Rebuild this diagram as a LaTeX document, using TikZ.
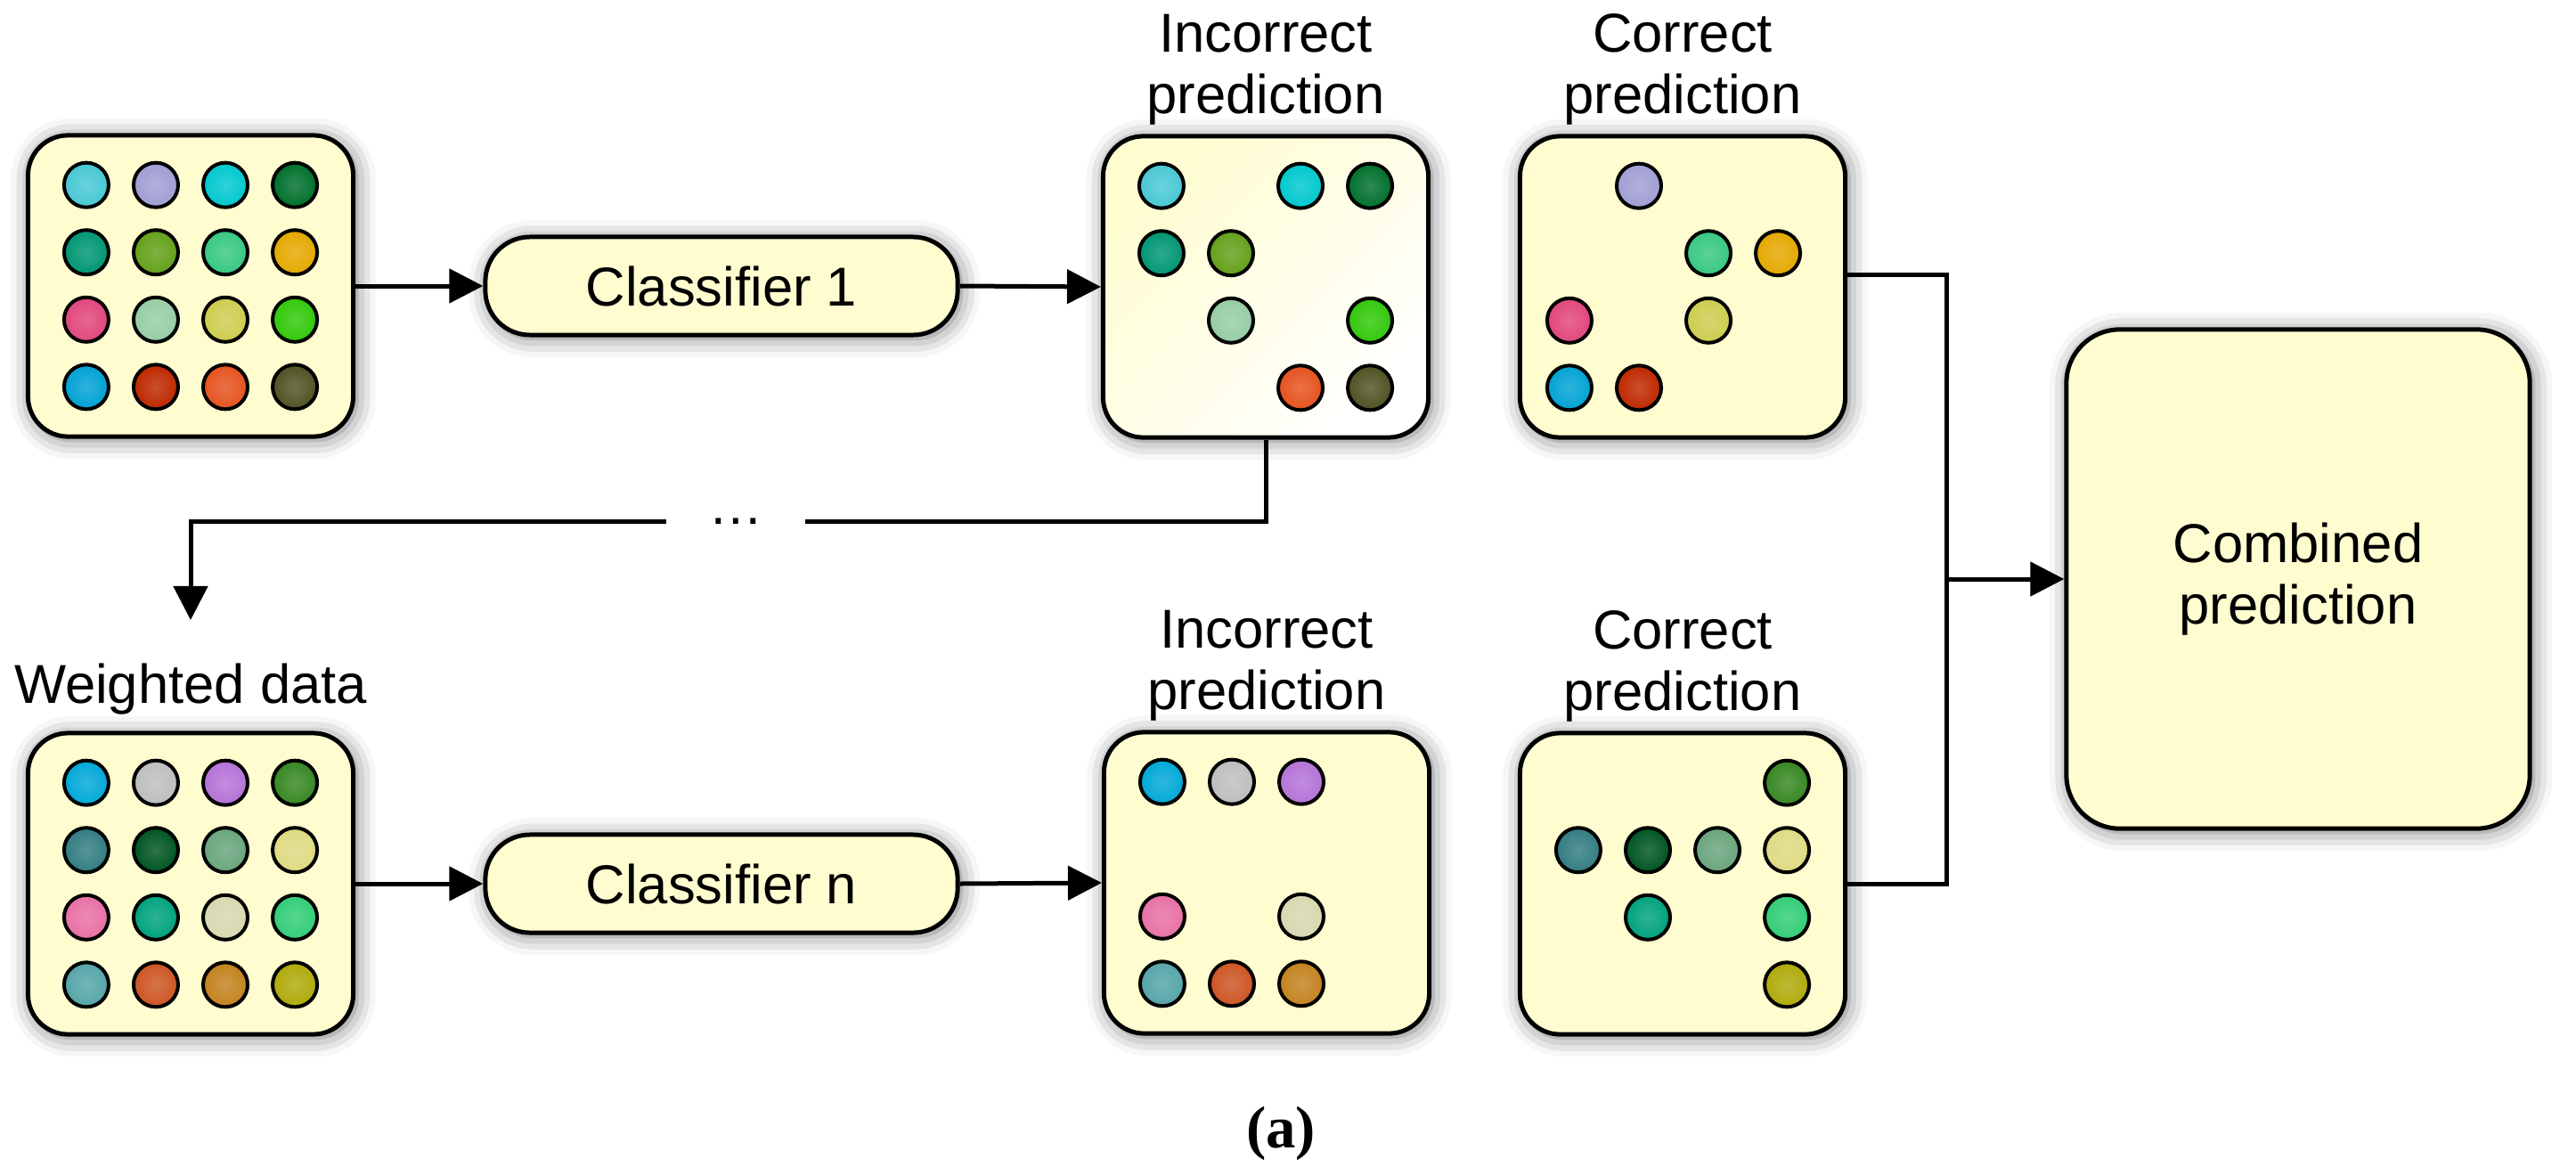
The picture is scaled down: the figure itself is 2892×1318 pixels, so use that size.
\documentclass[tikz,border=0pt]{standalone}
\usepackage{fontspec}
\setmainfont{Liberation Sans}
\newfontfamily\capfont{Liberation Serif}
\usepackage{tikz}
\usetikzlibrary{arrows.meta, shadows.blur}

\definecolor{boxyellow}{RGB}{255,253,208}

% first data set
\definecolor{dota11}{RGB}{72,200,212}
\definecolor{dota12}{RGB}{160,158,212}
\definecolor{dota13}{RGB}{0,200,206}
\definecolor{dota14}{RGB}{0,112,44}
\definecolor{dota21}{RGB}{0,150,115}
\definecolor{dota22}{RGB}{100,160,25}
\definecolor{dota23}{RGB}{55,200,130}
\definecolor{dota24}{RGB}{228,168,0}
\definecolor{dota31}{RGB}{225,70,125}
\definecolor{dota32}{RGB}{150,205,165}
\definecolor{dota33}{RGB}{205,205,80}
\definecolor{dota34}{RGB}{50,200,10}
\definecolor{dota41}{RGB}{0,162,212}
\definecolor{dota42}{RGB}{190,40,0}
\definecolor{dota43}{RGB}{230,82,30}
\definecolor{dota44}{RGB}{80,82,35}

% weighted data set
\definecolor{dotb11}{RGB}{0,168,215}
\definecolor{dotb12}{RGB}{190,190,190}
\definecolor{dotb13}{RGB}{180,115,215}
\definecolor{dotb14}{RGB}{55,135,35}
\definecolor{dotb21}{RGB}{50,125,130}
\definecolor{dotb22}{RGB}{0,85,35}
\definecolor{dotb23}{RGB}{105,165,125}
\definecolor{dotb24}{RGB}{222,218,130}
\definecolor{dotb31}{RGB}{232,112,165}
\definecolor{dotb32}{RGB}{0,162,125}
\definecolor{dotb33}{RGB}{215,215,175}
\definecolor{dotb34}{RGB}{50,205,120}
\definecolor{dotb41}{RGB}{85,165,168}
\definecolor{dotb42}{RGB}{205,85,35}
\definecolor{dotb43}{RGB}{195,130,30}
\definecolor{dotb44}{RGB}{175,170,10}

\begin{document}
\begin{tikzpicture}[
    x=0.01cm, y=-0.01cm,
    font=\fontsize{17.5}{19.5}\selectfont,
    line width=0.05cm,
    soft/.style={blur shadow={shadow xshift=0.03cm, shadow yshift=-0.03cm,
        shadow blur radius=0.22cm, shadow opacity=55}},
    panel/.style={draw=black, fill=boxyellow, rounded corners=0.45cm,
        minimum width=3.65cm, minimum height=3.38cm, soft},
    clfbox/.style={draw=black, fill=boxyellow, rounded corners=0.5cm,
        minimum width=5.3cm, minimum height=1.1cm, soft},
    bigbox/.style={draw=black, fill=boxyellow, rounded corners=0.6cm,
        minimum width=5.2cm, minimum height=5.6cm, align=center, soft},
    dot/.style={circle, draw=black, line width=0.04cm, minimum size=0.5cm,
        inner sep=0pt, inner color=#1!82!white, outer color=#1},
    lbl/.style={align=center, inner sep=0pt},
    arr/.style={-{Triangle[length=0.38cm, width=0.38cm]}}
]
    \useasboundingbox (0,0) rectangle (2892,1318);

    % ==========================================
    % COORDINATES
    % ==========================================
    % Round 1
    \coordinate (data1_pos)  at (214, 321);
    \coordinate (clf1_pos)   at (810, 321);
    \coordinate (wrong1_pos) at (1421, 322);
    \coordinate (right1_pos) at (1889, 322);

    % Round n
    \coordinate (data2_pos)  at (214, 992);
    \coordinate (clfn_pos)   at (810, 992);
    \coordinate (wrong2_pos) at (1422, 991);
    \coordinate (right2_pos) at (1889, 992);

    % Output
    \coordinate (comb_pos) at (2580, 650);
    \coordinate (merge)    at (2185, 650);


    % ==========================================
    % BOXES
    % ==========================================
    \node[panel] (data1) at (data1_pos) {};
    \node[clfbox] (clf1) at (clf1_pos) {Classifier 1};
    \node[panel, shading=axis, top color=boxyellow, middle color=boxyellow,
        bottom color=white, shading angle=45] (wrong1) at (wrong1_pos) {};
    \node[panel] (right1) at (right1_pos) {};

    \node[panel] (data2) at (data2_pos) {};
    \node[clfbox] (clfn) at (clfn_pos) {Classifier n};
    \node[panel] (wrong2) at (wrong2_pos) {};
    \node[panel] (right2) at (right2_pos) {};

    \node[bigbox] (comb) at (comb_pos) {Combined\\prediction};


    % ==========================================
    % DOTS (row/column inside each box)
    % ==========================================
    % Data set 1: full grid
    \foreach \r in {1,...,4}
        \foreach \c in {1,...,4}
            \node[dot=dota\r\c] (data1-\r\c)
                at ([xshift={(\c-2.5)*0.78cm}, yshift={(2.5-\r)*0.755cm}]data1.center) {};

    % Round 1: incorrect
    \foreach \r/\c in {1/1, 1/3, 1/4, 2/1, 2/2, 3/2, 3/4, 4/3, 4/4}
        \node[dot=dota\r\c] (wrong1-\r\c)
            at ([xshift={(\c-2.5)*0.78cm}, yshift={(2.5-\r)*0.755cm}]wrong1.center) {};

    % Round 1: correct
    \foreach \r/\c in {1/2, 2/3, 2/4, 3/1, 3/3, 4/1, 4/2}
        \node[dot=dota\r\c] (right1-\r\c)
            at ([xshift={(\c-2.5)*0.78cm-0.1cm}, yshift={(2.5-\r)*0.755cm}]right1.center) {};

    % Weighted data: full grid
    \foreach \r in {1,...,4}
        \foreach \c in {1,...,4}
            \node[dot=dotb\r\c] (data2-\r\c)
                at ([xshift={(\c-2.5)*0.78cm}, yshift={(2.5-\r)*0.755cm}]data2.center) {};

    % Round n: incorrect
    \foreach \r/\c in {1/1, 1/2, 1/3, 3/1, 3/3, 4/1, 4/2, 4/3}
        \node[dot=dotb\r\c] (wrong2-\r\c)
            at ([xshift={(\c-2.5)*0.78cm}, yshift={(2.5-\r)*0.755cm}]wrong2.center) {};

    % Round n: correct
    \foreach \r/\c in {1/4, 2/1, 2/2, 2/3, 2/4, 3/2, 3/4, 4/4}
        \node[dot=dotb\r\c] (right2-\r\c)
            at ([xshift={(\c-2.5)*0.78cm}, yshift={(2.5-\r)*0.755cm}]right2.center) {};


    % ==========================================
    % LABELS
    % ==========================================
    \node[lbl, above=0.08cm] (wrong1_txt) at (wrong1.north) {Incorrect\\prediction};
    \node[lbl, above=0.08cm] (right1_txt) at (right1.north) {Correct\\prediction};
    \node[lbl, above=0.08cm] (wrong2_txt) at (wrong2.north) {Incorrect\\prediction};
    \node[lbl, above=0.08cm] (right2_txt) at (right2.north) {Correct\\prediction};
    \node[lbl, above=0.16cm] (wdata) at (data2.north) {Weighted data};

    \node[inner xsep=0.45cm, inner ysep=0pt] (dots) at (826, 585) {…};

    \node[font=\capfont\bfseries\fontsize{19}{22}\selectfont] (tag) at (1438, 1272) {(a)};


    % ==========================================
    % CONNECTORS
    % ==========================================
    % Round 1
    \draw[arr] (data1.east) -- (clf1.west);
    \draw[arr] (clf1.east) -- (wrong1.west);

    % Reweighting
    \draw (wrong1.south) |- (dots.east);
    \draw[arr, shorten >=0.46cm] (dots.west) -| (wdata.north);

    % Round n
    \draw[arr] (data2.east) -- (clfn.west);
    \draw[arr] (clfn.east) -- (wrong2.west);

    % Combine
    \draw ([yshift=0.13cm]right1.east) -| (merge);
    \draw (right2.east) -| (merge);
    \draw[arr] (merge) -- (comb.west);

\end{tikzpicture}
\end{document}
